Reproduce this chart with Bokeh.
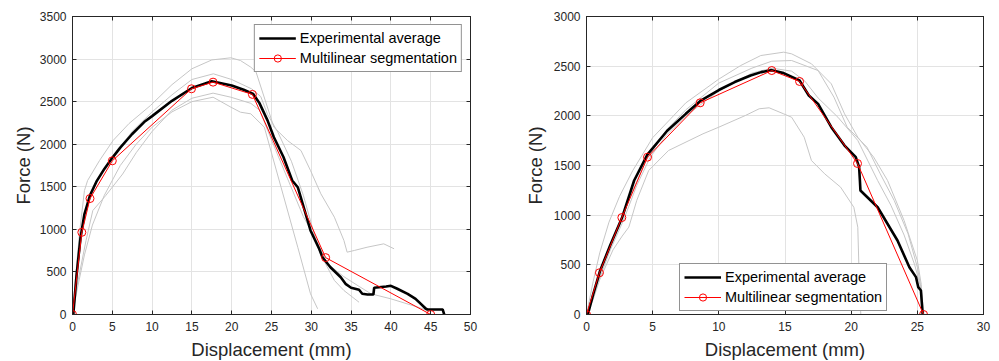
from bokeh.plotting import figure
from bokeh.models import (Legend, LegendItem, LinearAxis, FixedTicker, Range1d)
from bokeh.layouts import row
from bokeh.embed import file_html
from bokeh.resources import INLINE

# ---------------- Left chart data ----------------
L_avg_x = [0.1, 0.5, 1.0, 1.5, 2.2, 3.0, 4.0, 5.0, 6.0, 7.5, 9.0, 10.0, 12.5, 15.0, 17.5, 20.0, 21.5, 22.7,
           23.5, 24.5, 25.3, 26.5, 27.6, 28.3, 29.9, 31.0, 31.4, 32.4, 33.7, 34.3, 35.0, 36.0, 36.4, 37.06,
           37.8, 37.9, 39.4, 40.0, 40.8, 42.1, 43.1, 44.4, 44.6, 46.5, 46.7]
L_avg_y = [0, 450, 900, 1180, 1400, 1560, 1710, 1840, 1960, 2120, 2260, 2330, 2510, 2660, 2740, 2690, 2640, 2590,
           2480, 2280, 2082, 1850, 1574, 1495, 987, 770, 673, 555, 438, 360, 314, 290, 243, 235,
           235, 314, 329, 337, 302, 243, 184, 67, 59, 59, 0]
L_seg_x = [0, 1.17, 2.2, 5.0, 14.95, 17.66, 22.6, 31.8, 45.0]
L_seg_y = [0, 965, 1362, 1805, 2651, 2729, 2585, 668, 0]

L_g1_x = [0, 0.4, 0.87, 1.5, 1.9, 3.4, 5.1, 7.1, 9.8, 12.5, 15.0, 17.5, 19.9, 21.1, 22.4, 23.05, 25.3, 27.0,
          28.7, 29.9, 31.2, 32.9, 34.1, 34.5, 35.4, 37.0, 39.1, 40.4]
L_g1_y = [0, 450, 948, 1456, 1574, 1809, 2044, 2243, 2455, 2700, 2886, 2990, 3015, 2983, 2905, 2850, 2200, 2044,
          1926, 1691, 1418, 1143, 869, 732, 752, 790, 830, 772]
L_g2_x = [0, 0.6, 1.2, 2.0, 3.0, 5.0, 7.5, 10.0, 12.5, 15.0, 17.7, 20.0, 22.5, 23.65, 24.5, 25.8, 27.5, 29.0,
          30.5, 31.2, 32.9, 34.1, 36.0]
L_g2_y = [0, 500, 950, 1300, 1550, 1850, 2150, 2380, 2580, 2760, 2827, 2760, 2650, 2560, 2350, 2141, 1800, 1400,
          900, 700, 400, 282, 144]
L_g3_x = [0, 0.7, 1.7, 2.55, 4.2, 6.3, 8.0, 10.0, 12.5, 15.0, 17.66, 19.9, 22.4, 23.5, 25.0, 27.0, 29.0, 30.5,
          32.0, 34.0, 36.0, 37.5, 40.0, 43.4, 44.6]
L_g3_y = [0, 400, 869, 1221, 1400, 1650, 1900, 2150, 2400, 2540, 2600, 2552, 2480, 2400, 2050, 1600, 1150, 900,
          600, 450, 330, 243, 184, 86, 47]
L_g4_x = [0, 0.6, 1.5, 2.5, 4.0, 6.0, 8.0, 10.0, 12.5, 15.0, 17.66, 19.9, 21.1, 22.4, 24.1, 26.2, 28.3, 29.9, 30.8]
L_g4_y = [0, 300, 700, 1050, 1400, 1750, 2000, 2200, 2380, 2500, 2552, 2435, 2376, 2357, 2200, 1495, 790, 243, 67]

L_xticks = [0, 5, 10, 15, 20, 25, 30, 35, 40, 45, 50]
L_yticks = [0, 500, 1000, 1500, 2000, 2500, 3000, 3500]

# ---------------- Right chart data ----------------
R_avg_x = [0.1, 0.5, 1.0, 1.8, 2.7, 3.6, 4.6, 6.1, 7.5, 8.6, 10.0, 11.2, 12.4, 13.2, 14.0, 14.9, 16.1, 16.8,
           17.5, 18.5, 19.5, 20.35, 20.6, 20.66, 20.7, 22.0, 23.5, 24.4, 24.9, 25.07, 25.27, 25.4]
R_avg_y = [0, 200, 430, 700, 980, 1349, 1610, 1850, 2020, 2150, 2260, 2340, 2406, 2440, 2460, 2430, 2356, 2205,
           2120, 1886, 1701, 1584, 1483, 1350, 1248, 1080, 745, 476, 376, 275, 242, 7]
R_seg_x = [0, 0.98, 2.67, 4.61, 8.59, 14.0, 16.1, 20.48, 25.47]
R_seg_y = [0, 420, 976, 1584, 2131, 2456, 2346, 1520, 0]

R_g1_x = [0, 0.5, 1.0, 1.7, 2.5, 3.5, 5.0, 7.5, 10.0, 11.66, 13.17, 14.9, 15.5, 17.0, 18.5, 19.5, 20.5, 21.7,
          22.75, 24.0, 25.0, 25.3, 25.4]
R_g1_y = [0, 330, 620, 930, 1190, 1450, 1780, 2130, 2370, 2507, 2607, 2641, 2624, 2524, 2322, 2020, 1785, 1584,
          1349, 946, 544, 300, 0]
R_g2_x = [0, 0.7, 1.5, 2.5, 3.5, 4.5, 6.0, 7.5, 10.0, 12.5, 14.0, 15.5, 17.5, 18.7, 19.7, 21.2, 22.2, 23.25,
          24.3, 25.0, 25.3, 25.5]
R_g2_y = [0, 300, 620, 900, 1250, 1550, 1850, 2060, 2330, 2480, 2550, 2557, 2456, 2188, 1886, 1684, 1416, 1148,
          812, 476, 250, 0]
R_g3_x = [0, 0.8, 1.8, 2.8, 3.8, 4.8, 6.0, 7.5, 10.0, 12.5, 14.0, 15.5, 16.5, 17.5, 19.0, 20.5, 22.0, 23.0,
          24.0, 24.8, 25.2, 25.4]
R_g3_y = [0, 300, 650, 950, 1300, 1580, 1800, 2000, 2250, 2430, 2480, 2450, 2350, 2180, 1986, 1752, 1349, 1100,
          800, 500, 300, 0]
R_g4_x = [0, 0.5, 1.0, 2.0, 2.7, 3.2, 3.8, 4.7, 6.2, 8.8, 10.0, 12.0, 13.05, 13.8, 14.9, 15.5, 16.45, 17.0,
          18.0, 19.2, 20.2, 20.5, 20.6, 20.73]
R_g4_y = [0, 150, 350, 650, 790, 880, 1150, 1450, 1651, 1819, 1886, 2003, 2071, 2081, 2020, 1986, 1785, 1550,
          1416, 1282, 1080, 879, 410, 0]

R_xticks = [0, 5, 10, 15, 20, 25, 30]
R_yticks = [0, 500, 1000, 1500, 2000, 2500, 3000]

AX = "#262626"
GRID = "#e3e3e3"
GREY = "#c6c6c6"
FONT = "Liberation Sans"


def box_axis(ticks):
    return LinearAxis(ticker=FixedTicker(ticks=ticks), major_label_text_font_size="0px",
                      major_label_text_color=None, major_label_standoff=0,
                      major_tick_in=4, major_tick_out=0, minor_tick_line_color=None,
                      axis_line_color=AX, major_tick_line_color=AX)


def make_fig(xmax, ymax, xticks, yticks, greys, avg, seg, border_left, border_right, ylab_standoff,
             legend_loc, frame_w):
    p = figure(frame_width=frame_w, frame_height=298, output_backend="svg", toolbar_location=None,
               x_range=Range1d(0, xmax), y_range=Range1d(0, ymax),
               min_border_left=border_left, min_border_right=border_right,
               min_border_top=16, min_border_bottom=47,
               x_axis_label="Displacement (mm)", y_axis_label="Force (N)")
    p.background_fill_color = "white"
    p.border_fill_color = "white"
    p.outline_line_color = AX
    p.outline_line_width = 1

    for gx, gy in greys:
        p.line(gx, gy, line_color=GREY, line_width=1)
    l_avg = p.line(avg[0], avg[1], line_color="black", line_width=2.6)
    l_seg = p.line(seg[0], seg[1], line_color="#ff0000", line_width=1)
    s_seg = p.scatter(seg[0], seg[1], marker="circle", size=8, fill_color=None,
                      line_color="#ff0000", line_width=1)

    p.xaxis.ticker = FixedTicker(ticks=xticks)
    p.yaxis.ticker = FixedTicker(ticks=yticks)
    for ax in (p.xaxis[0], p.yaxis[0]):
        ax.axis_line_color = AX
        ax.major_tick_line_color = AX
        ax.major_tick_in = 4
        ax.major_tick_out = 0
        ax.minor_tick_line_color = None
        ax.major_label_text_font = FONT
        ax.major_label_text_font_size = "12px"
        ax.major_label_text_color = AX
        ax.axis_label_text_font = FONT
        ax.axis_label_text_font_size = "18.5px"
        ax.axis_label_text_font_style = "normal"
        ax.axis_label_text_color = AX
    p.xaxis.major_label_standoff = 7
    p.xaxis.axis_label_standoff = 5
    p.yaxis.major_label_standoff = 6
    p.yaxis.axis_label_standoff = ylab_standoff

    # box ticks on top and right
    p.add_layout(box_axis(xticks), "above")
    p.add_layout(box_axis(yticks), "right")

    p.xgrid.ticker = FixedTicker(ticks=xticks)
    p.ygrid.ticker = FixedTicker(ticks=yticks)
    p.xgrid.grid_line_color = GRID
    p.ygrid.grid_line_color = GRID

    legend = Legend(items=[
        LegendItem(label="Experimental average", renderers=[l_avg]),
        LegendItem(label="Multilinear segmentation", renderers=[l_seg, s_seg]),
    ])
    legend.location = legend_loc
    legend.margin = 8
    legend.padding = 4
    legend.spacing = 2
    legend.glyph_width = 37
    legend.glyph_height = 18
    legend.label_height = 18
    legend.label_standoff = 4
    legend.label_text_font = FONT
    legend.label_text_font_size = "14.5px"
    legend.label_text_color = "black"
    legend.border_line_color = AX
    legend.border_line_width = 1
    legend.background_fill_color = "white"
    legend.background_fill_alpha = 1
    p.add_layout(legend, "center")
    return p


p1 = make_fig(50, 3500, L_xticks, L_yticks,
              [(L_g1_x, L_g1_y), (L_g2_x, L_g2_y), (L_g3_x, L_g3_y), (L_g4_x, L_g4_y)],
              (L_avg_x, L_avg_y), (L_seg_x, L_seg_y), 72, 30, 3, "top_right", 398)
p2 = make_fig(30, 3000, R_xticks, R_yticks,
              [(R_g1_x, R_g1_y), (R_g2_x, R_g2_y), (R_g3_x, R_g3_y), (R_g4_x, R_g4_y)],
              (R_avg_x, R_avg_y), (R_seg_x, R_seg_y), 86, 16, 5, (93, 3), 397)

layout = row(p1, p2, spacing=0)
open("out.html", "w").write(file_html(layout, INLINE))
